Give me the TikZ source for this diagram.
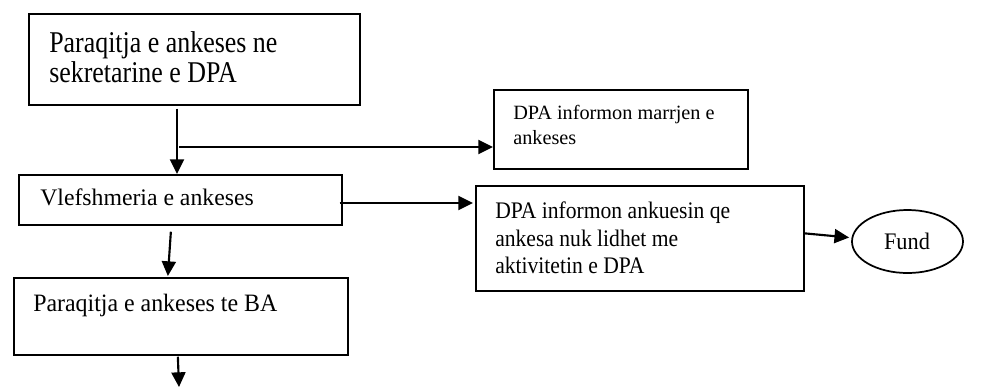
\documentclass[tikz,border=0pt]{standalone}
\usepackage{fontspec}
\setmainfont{Liberation Serif}
\usetikzlibrary{arrows.meta,shapes.geometric,calc}
\newcommand{\hsq}[2]{\scalebox{#1}[1]{#2}}
\begin{document}
\begin{tikzpicture}[x=0.75pt,y=-0.75pt,
  box/.style={draw,line width=1.3pt,inner sep=0pt,anchor=north west},
  lbl/.style={anchor=base west,inner sep=0pt},
  arr/.style={line width=1.6pt,-{Triangle[length=11pt,width=10.5pt]}}]
\useasboundingbox (0,0) rectangle (1000,386);
% boxes
\node[box,minimum width=248.25pt,minimum height=68.25pt] (b1) at (28,13) {};
\node[box,minimum width=190.5pt,minimum height=59.25pt] (b2) at (493,89) {};
\node[box,minimum width=242.25pt,minimum height=37.5pt] (b3) at (18,174) {};
\node[box,minimum width=246pt,minimum height=78.75pt] (b4) at (475,185) {};
\node[box,minimum width=250.5pt,minimum height=57.75pt] (b5) at (13,277) {};
\node[draw,line width=1.3pt,ellipse,inner sep=0pt,minimum width=83.25pt,minimum height=47.25pt] (fund) at (907.5,241.5) {};
% texts
\node[lbl,font=\fontsize{22.6}{26}\selectfont] (t1a) at (49,52) {\hsq{0.86}{Paraqitja e ankeses ne}};
\node[lbl,font=\fontsize{22.6}{26}\selectfont] (t1b) at (49,82) {\hsq{0.86}{sekretarine e DPA}};
\node[lbl,font=\fontsize{15.2}{18}\selectfont] (t2a) at (513,119.5) {DPA informon marrjen e};
\node[lbl,font=\fontsize{15.2}{18}\selectfont] (t2b) at (513,144) {ankeses};
\node[lbl,font=\fontsize{17.8}{22}\selectfont] (t3) at (40,205.7) {Vlefshmeria e ankeses};
\node[lbl,font=\fontsize{17.8}{20}\selectfont] (t4a) at (495,218.5) {\hsq{0.91}{DPA informon ankuesin qe}};
\node[lbl,font=\fontsize{17.8}{20}\selectfont] (t4b) at (495,246) {\hsq{0.91}{ankesa nuk lidhet me}};
\node[lbl,font=\fontsize{17.8}{20}\selectfont] (t4c) at (495,273) {\hsq{0.91}{aktivitetin e DPA}};
\node[lbl,font=\fontsize{18.75}{22}\selectfont] (t5) at (33,311.7) {\hsq{0.955}{Paraqitja e ankeses te BA}};
\node[anchor=base,inner sep=0pt,font=\fontsize{17.8}{20}\selectfont] (tf) at (907,249) {\hsq{0.94}{Fund}};
% connectors
\coordinate (c1) at (179,147);
\coordinate (x1) at (177,0);
\draw[arr] ($(b1.south -| x1)+(0,3)$) -- (b3.north -| x1);
\draw[arr] (c1) -- (b2.west |- c1);
\coordinate (r2) at (0,203);
\draw[arr] ($(b3.east |- r2)+(-3,0)$) -- ($(b4.west |- r2)+(-2,0)$);
\draw[arr] ($(b4.east)+(0,-5)$) -- ($(fund.west)+(-2,-4)$);
\draw[arr] ($(b3.south)+(-9.5,6)$) -- ($(b5.north)+(-13,-1)$);
\coordinate (end) at (179,387);
\draw[arr] ($(b5.south)+(-3,1)$) -- (end);
\end{tikzpicture}
\end{document}
